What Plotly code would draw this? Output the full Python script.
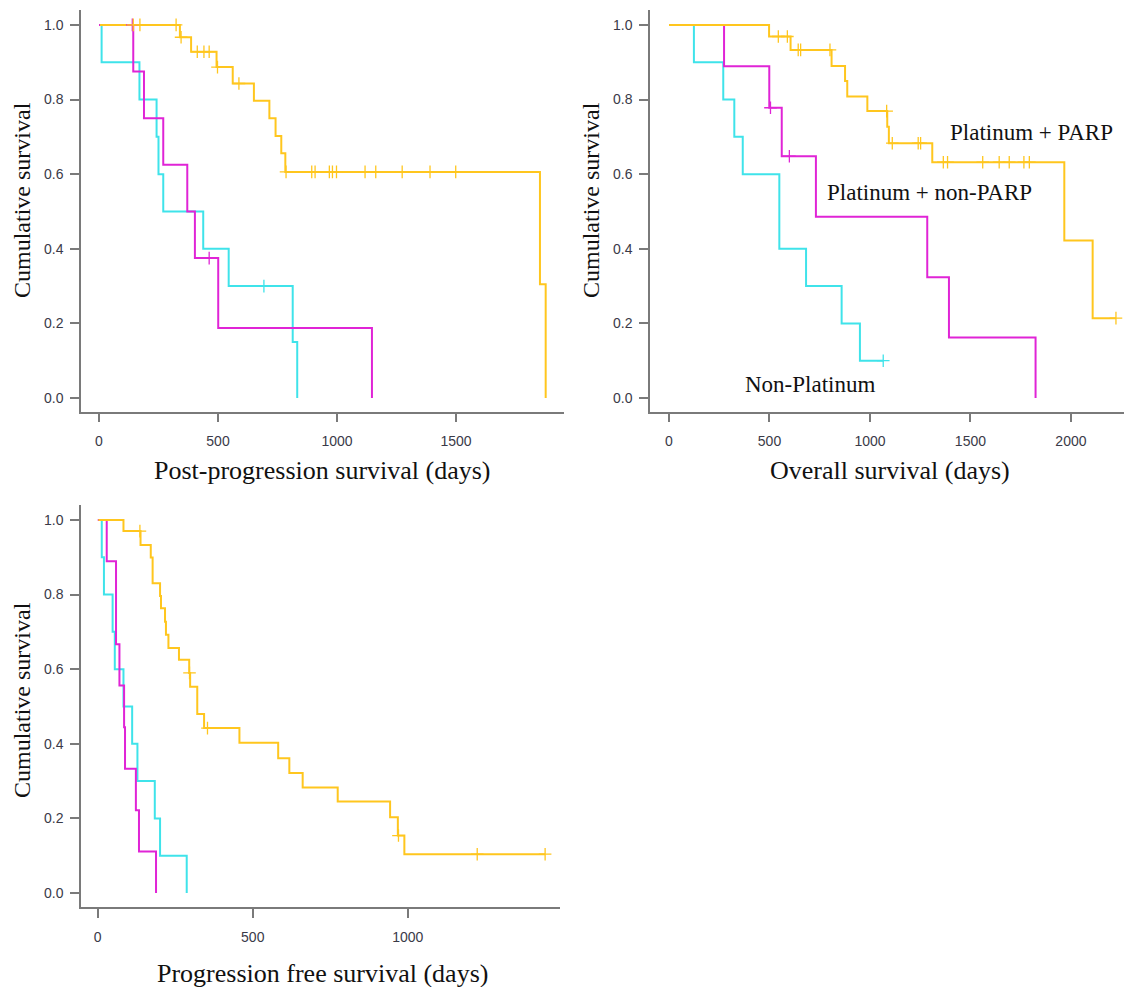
import plotly.graph_objects as go

# ---------------- data (days, survival) ----------------
group_names = ["Non-Platinum", "Platinum + non-PARP", "Platinum + PARP"]
group_colors = ["#3FE3EA", "#E024D6", "#FFC61E"]

# Post-progression survival
pps_np_start = 4
pps_np_t = [11, 170, 242, 250, 270, 438, 545, 814, 833]
pps_np_s = [0.9, 0.8, 0.7, 0.6, 0.5, 0.4, 0.3, 0.15, 0.0]
pps_np_c = [693]

pps_pn_start = 0
pps_pn_t = [144, 189, 270, 371, 403, 501, 1147]
pps_pn_s = [0.875, 0.75, 0.625, 0.5, 0.375, 0.1875, 0.0]
pps_pn_c = [140, 463]

pps_pp_start = 4
pps_pp_t = [340, 387, 494, 562, 651, 716, 742, 766, 783, 1853, 1877]
pps_pp_s = [0.967, 0.928, 0.887, 0.843, 0.797, 0.750, 0.702, 0.656, 0.606, 0.305, 0.0]
pps_pp_c = [144, 172, 324, 345, 413, 441, 463, 498, 588, 786, 894, 908, 968, 981,
            998, 1118, 1163, 1274, 1391, 1499]

# Overall survival
os_np_start = 0
os_np_t = [124, 270, 325, 367, 549, 682, 859, 950]
os_np_s = [0.9, 0.8, 0.7, 0.6, 0.4, 0.3, 0.2, 0.1]
os_np_c = [1066]

os_pn_start = 0
os_pn_t = [274, 499, 561, 731, 1285, 1393, 1824]
os_pn_s = [0.889, 0.778, 0.648, 0.486, 0.324, 0.162, 0.0]
os_pn_c = [505, 599]

os_pp_start = 0
os_pp_t = [498, 605, 809, 876, 887, 987, 1086, 1094, 1310, 1967, 2108]
os_pp_s = [0.969, 0.933, 0.890, 0.850, 0.808, 0.769, 0.727, 0.683, 0.632, 0.422, 0.214]
os_pp_c = [544, 589, 643, 655, 801, 1083, 1111, 1240, 1252, 1365, 1386, 1561, 1643,
           1693, 1766, 1793, 2224]

# Progression free survival
pfs_np_start = 7
pfs_np_t = [13, 20, 48, 55, 83, 111, 128, 184, 201, 287]
pfs_np_s = [0.9, 0.8, 0.7, 0.6, 0.5, 0.4, 0.3, 0.2, 0.1, 0.0]
pfs_np_c = []

pfs_pn_start = 0
pfs_pn_t = [29, 59, 70, 85, 88, 123, 133, 188]
pfs_pn_s = [0.889, 0.667, 0.556, 0.444, 0.333, 0.222, 0.111, 0.0]
pfs_pn_c = []

pfs_pp_start = 2
pfs_pp_t = [83, 138, 171, 177, 201, 204, 217, 220, 228, 262, 295, 298, 321, 343, 457,
            582, 618, 661, 774, 943, 968, 989]
pfs_pp_s = [0.97, 0.933, 0.899, 0.830, 0.796, 0.763, 0.727, 0.692, 0.657, 0.625, 0.59,
            0.553, 0.48, 0.442, 0.403, 0.361, 0.322, 0.283, 0.245, 0.203, 0.154, 0.104]
pfs_pp_c = [136, 296, 354, 970, 1224, 1443]

panels = [
    dict(x="x", y="y", title="Post-progression survival (days)",
         curves=[(pps_np_start, pps_np_t, pps_np_s, pps_np_c),
                 (pps_pn_start, pps_pn_t, pps_pn_s, pps_pn_c),
                 (pps_pp_start, pps_pp_t, pps_pp_s, pps_pp_c)]),
    dict(x="x2", y="y2", title="Overall survival (days)",
         curves=[(os_np_start, os_np_t, os_np_s, os_np_c),
                 (os_pn_start, os_pn_t, os_pn_s, os_pn_c),
                 (os_pp_start, os_pp_t, os_pp_s, os_pp_c)]),
    dict(x="x3", y="y3", title="Progression free survival (days)",
         curves=[(pfs_np_start, pfs_np_t, pfs_np_s, pfs_np_c),
                 (pfs_pn_start, pfs_pn_t, pfs_pn_s, pfs_pn_c),
                 (pfs_pp_start, pfs_pp_t, pfs_pp_s, pfs_pp_c)]),
]


def surv_at(t, times, surv):
    v = 1.0
    for ti, si in zip(times, surv):
        if ti <= t:
            v = si
    return v


fig = go.Figure()
for p in panels:
    for gi, (st, t, s, c) in enumerate(p["curves"]):
        xs = [st] + list(t)
        ys = [1.0] + list(s)
        if c and max(c) > xs[-1]:
            xs.append(max(c))
            ys.append(ys[-1])
        fig.add_trace(go.Scatter(x=xs, y=ys, mode="lines", line_shape="hv",
                                 line=dict(color=group_colors[gi], width=2),
                                 name=group_names[gi], showlegend=False,
                                 xaxis=p["x"], yaxis=p["y"]))
    for gi, (st, t, s, c) in enumerate(p["curves"]):
        if not c:
            continue
        fig.add_trace(go.Scatter(x=list(c), y=[surv_at(ci, t, s) for ci in c],
                                 mode="markers",
                                 marker=dict(symbol="cross-thin", size=9,
                                             line=dict(color=group_colors[gi], width=1.3)),
                                 showlegend=False, xaxis=p["x"], yaxis=p["y"]))

W, H = 1124, 987
tickfont = dict(family="Liberation Sans, Arial, sans-serif", size=14, color="#3a3a48")
ax_common = dict(showgrid=False, zeroline=False, showline=True, linecolor="#7a7a7a",
                 linewidth=1.5, ticks="outside", ticklen=9, tickwidth=1.5,
                 tickcolor="#7a7a7a", tickfont=tickfont)
x_common = dict(ax_common, ticklabelstandoff=7)
y_common = dict(ax_common, ticklabelstandoff=4)

yticks = [0, 0.2, 0.4, 0.6, 0.8, 1.0]
ylabels = ["0.0", "0.2", "0.4", "0.6", "0.8", "1.0"]

fig.update_layout(
    width=W, height=H, margin=dict(l=0, r=0, t=0, b=0),
    paper_bgcolor="white", plot_bgcolor="white",
    xaxis=dict(x_common, domain=[81 / W, 564 / W], range=[-75.6, 1954],
               tickvals=[0, 500, 1000, 1500], anchor="y"),
    yaxis=dict(y_common, domain=[1 - 411.7 / H, 1 - 10 / H], range=[-0.0367, 1.040],
               tickvals=yticks, ticktext=ylabels, anchor="x"),
    xaxis2=dict(x_common, domain=[650 / W, 1.0], range=[-94.5, 2264],
                tickvals=[0, 500, 1000, 1500, 2000], anchor="y2"),
    yaxis2=dict(y_common, domain=[1 - 411.7 / H, 1 - 10 / H], range=[-0.0367, 1.040],
                tickvals=yticks, ticktext=ylabels, anchor="x2"),
    xaxis3=dict(x_common, domain=[81 / W, 560 / W], range=[-54, 1491],
                tickvals=[0, 500, 1000], anchor="y3"),
    yaxis3=dict(y_common, domain=[1 - 907 / H, 1 - 505 / H], range=[-0.0375, 1.040],
                tickvals=yticks, ticktext=ylabels, anchor="x3"),
)

serif = "Liberation Serif, Times New Roman, serif"
ann = []
# axis titles
for (xc, yc, txt) in [(322, 470, panels[0]["title"]), (890, 470, panels[1]["title"]),
                      (322, 973, panels[2]["title"])]:
    ann.append(dict(x=xc / W, y=1 - yc / H, xref="paper", yref="paper", text=txt,
                    showarrow=False, font=dict(family=serif, size=26, color="#111"),
                    xanchor="center", yanchor="middle"))
for (xc, yc) in [(22, 200), (591, 200), (22, 700)]:
    ann.append(dict(x=xc / W, y=1 - yc / H, xref="paper", yref="paper",
                    text="Cumulative survival", textangle=-90, showarrow=False,
                    font=dict(family=serif, size=24, color="#111"),
                    xanchor="center", yanchor="middle"))
# group labels in OS panel
for (xc, yc, txt) in [(1031, 132, group_names[2]), (929, 193, group_names[1]),
                      (810, 384, group_names[0])]:
    ann.append(dict(x=xc / W, y=1 - yc / H, xref="paper", yref="paper", text=txt,
                    showarrow=False, font=dict(family=serif, size=23, color="#111"),
                    xanchor="center", yanchor="middle"))
fig.update_layout(annotations=ann)

fig.write_html("out.html")
